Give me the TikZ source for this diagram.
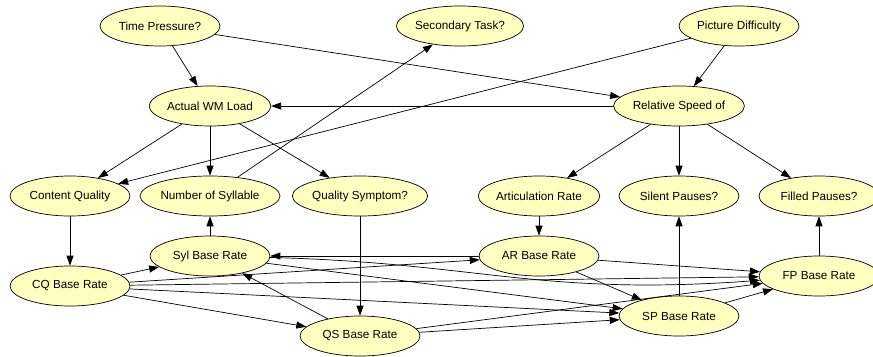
\documentclass[tikz,border=0pt]{standalone}
\usepackage{fontspec}
\setmainfont{Liberation Sans}
\usepackage{tikz}
\usetikzlibrary{positioning,shapes.geometric,arrows.meta}
\definecolor{bnfill}{RGB}{255,255,192}

\begin{document}
\begin{tikzpicture}[
        bn/.style={ellipse,draw,line width=0.6pt,fill=bnfill,minimum width=3.6cm,minimum height=1.2cm,inner sep=0pt,font=\fontsize{10}{12}\selectfont},
        arc/.style={-{Triangle[length=8.5pt,width=6pt]},line width=0.6pt},
        on grid]
        \useasboundingbox (0,0) rectangle (26.19,-10.68);
            \node[bn] (tp) at (4.8,-0.78) {Time Pressure?};
            \node[bn,right=9cm of tp] (st) {Secondary Task?};
            \node[bn,right=8.37cm of st] (pd) {Picture Difficulty};
            \node[bn,below right=2.4cm and 1.5cm of tp] (wm) {Actual WM Load};
            \node[bn,below left=2.4cm and 1.8cm of pd] (rs) {Relative Speed of};
            \node[bn,below=2.7cm of wm] (ns) {Number of Syllable};
            \node[bn,left=4.2cm of ns] (cq) {Content Quality};
            \node[bn,right=4.5cm of ns] (qs) {Quality Symptom?};
            \node[bn,below=2.7cm of rs] (sp) {Silent Pauses?};
            \node[bn,left=4.2cm of sp] (ar) {Articulation Rate};
            \node[bn,right=4.2cm of sp] (fp) {Filled Pauses?};
            \node[bn,below=1.8cm of ns] (sylb) {Syl Base Rate};
            \node[bn,below=1.8cm of ar] (arb) {AR Base Rate};
            \node[bn,below=2.7cm of cq] (cqb) {CQ Base Rate};
            \node[bn,below=4.2cm of qs] (qsb) {QS Base Rate};
            \node[bn,below=3.6cm of sp] (spb) {SP Base Rate};
            \node[bn,below=2.4cm of fp] (fpb) {FP Base Rate};
            \draw[arc] (tp) -- (wm);
            \draw[arc] (tp) -- (rs);
            \draw[arc] (pd) -- (rs);
            \draw[arc] (pd) -- (cq);
            \draw[arc] (rs) -- (wm);
            \draw[arc] (ns) -- (st);
            \draw[arc] (wm) -- (cq);
            \draw[arc] (wm) -- (ns);
            \draw[arc] (wm) -- (qs);
            \draw[arc] (rs) -- (ar);
            \draw[arc] (rs) -- (sp);
            \draw[arc] (rs) -- (fp);
            \draw[arc] (cq) -- (cqb);
            \draw[arc] (sylb) -- (ns);
            \draw[arc] (qs) -- (qsb);
            \draw[arc] (ar) -- (arb);
            \draw[arc] (spb) -- (sp);
            \draw[arc] (fpb) -- (fp);
            \draw[arc] (cqb) -- (sylb);
            \draw[arc] (cqb) -- (qsb);
            \draw[arc] (cqb) -- (arb);
            \draw[arc] (cqb) -- (fpb);
            \draw[arc] (cqb) -- (spb);
            \draw[arc] (arb) -- (sylb);
            \draw[arc] (sylb) -- (spb);
            \draw[arc] (sylb) .. controls ([yshift=-0.2cm]arb.west) and ([yshift=-0.6cm]arb.south) .. (fpb);
            \draw[arc] (qsb) -- (sylb);
            \draw[arc] (qsb) -- (fpb);
            \draw[arc] (qsb) -- (spb);
            \draw[arc] (arb) -- (fpb);
            \draw[arc] (arb) -- (spb);
            \draw[arc] (spb) -- (fpb);
    \end{tikzpicture}
\end{document}
